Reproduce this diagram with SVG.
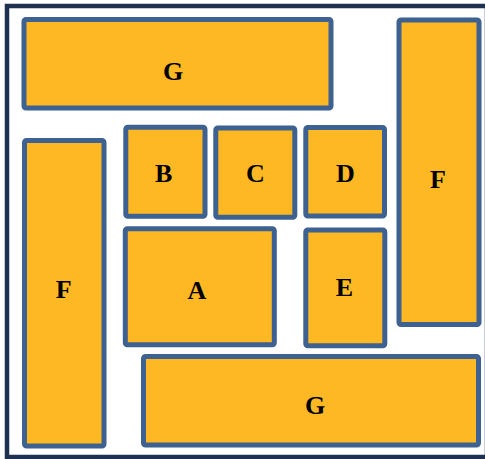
<svg xmlns="http://www.w3.org/2000/svg" width="485" height="459" viewBox="0 0 485 459">
<style>
.box{fill:#FDB823;stroke:#3D6190;stroke-width:5;}
.lbl{font-family:"Liberation Serif","Times New Roman",serif;font-weight:bold;font-size:26px;fill:#000;text-anchor:middle;}
</style>
<rect x="0" y="0" width="485" height="459" fill="#ffffff"/>
<rect id="frame" x="7" y="6" width="480" height="451" fill="none" stroke="#1E3150" stroke-width="4.5"/>
<g id="G-top"><rect class="box" x="24" y="19.5" width="307" height="88.5" rx="2"/><text class="lbl" x="173" y="80">G</text></g>
<g id="F-right"><rect class="box" x="399" y="20" width="80" height="304.5" rx="2"/><text class="lbl" x="438" y="188">F</text></g>
<g id="B"><rect class="box" x="125.8" y="127.3" width="79.2" height="89" rx="2"/><text class="lbl" x="163.7" y="181.7">B</text></g>
<g id="C"><rect class="box" x="215.8" y="128" width="79" height="89.3" rx="2"/><text class="lbl" x="255.5" y="182.3">C</text></g>
<g id="D"><rect class="box" x="305.8" y="127.5" width="78.7" height="88.5" rx="2"/><text class="lbl" x="345.5" y="181.7">D</text></g>
<g id="A"><rect class="box" x="125.3" y="228.7" width="149" height="116" rx="2"/><text class="lbl" x="197" y="299">A</text></g>
<g id="E"><rect class="box" x="305.8" y="230" width="79" height="115.8" rx="2"/><text class="lbl" x="344.3" y="296">E</text></g>
<g id="F-left"><rect class="box" x="24.5" y="140.5" width="79.5" height="305.5" rx="2"/><text class="lbl" x="63.8" y="298">F</text></g>
<g id="G-bottom"><rect class="box" x="143.5" y="356.5" width="335" height="88.5" rx="2"/><text class="lbl" x="315" y="414">G</text></g>
<g id="connectors"/>
</svg>
